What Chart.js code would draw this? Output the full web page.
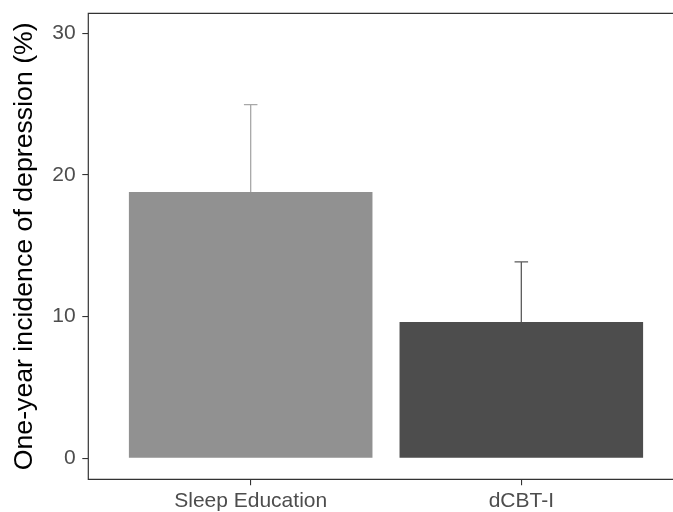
<!DOCTYPE html>
<html>
<head>
<meta charset="utf-8">
<script src="https://cdn.jsdelivr.net/npm/chart.js@4/dist/chart.umd.min.js"></script>
<style>
  body { margin: 0; background: #fff; overflow: hidden; }
  #wrap { width: 673px; height: 512px; overflow: hidden; }
</style>
</head>
<body>
<div id="wrap"><canvas id="chart" width="686" height="512"></canvas></div>
<script>
const groups = ["Sleep Education", "dCBT-I"];
const incidence = [18.8, 9.62];
const upperCI = [24.96, 13.86];
const yTicks = [0, 10, 20, 30];
const barColors = ["#919191", "#4d4d4d"];
const errColors = ["#a8a8a8", "#5a5a5a"];

const FONT = "'Liberation Sans', Arial, sans-serif";

// error bars (upper half only, like the original)
const errorBars = {
  id: "errorBars",
  afterDatasetsDraw(chart) {
    const { ctx, scales: { x, y } } = chart;
    ctx.save();
    ctx.lineWidth = 1.3;
    upperCI.forEach((hi, i) => {
      const cx = x.getPixelForValue(i + 1);
      const half = (x.getPixelForValue(i + 1.025) - x.getPixelForValue(i + 0.975)) / 2;
      const yTop = y.getPixelForValue(hi);
      const yBar = y.getPixelForValue(incidence[i]);
      ctx.strokeStyle = errColors[i];
      ctx.beginPath();
      ctx.moveTo(cx, yBar);
      ctx.lineTo(cx, yTop);
      ctx.moveTo(cx - half, yTop);
      ctx.lineTo(cx + half, yTop);
      ctx.stroke();
    });
    ctx.restore();
  },
};

// panel border (right side falls outside the crop anyway)
const panelBorder = {
  id: "panelBorder",
  afterDraw(chart) {
    const { ctx, chartArea: a } = chart;
    ctx.save();
    ctx.strokeStyle = "#333333";
    ctx.lineWidth = 1.2;
    ctx.beginPath();
    ctx.moveTo(a.right, a.top);
    ctx.lineTo(a.left, a.top);
    ctx.lineTo(a.left, a.bottom);
    ctx.lineTo(a.right, a.bottom);
    ctx.stroke();
    ctx.restore();
  },
};

new Chart(document.getElementById("chart"), {
  type: "bar",
  data: {
    datasets: [
      {
        data: incidence.map((v, i) => ({ x: i + 1, y: v })),
        backgroundColor: barColors,
        borderWidth: 0,
        categoryPercentage: 1,
        barPercentage: 0.9,
      },
    ],
  },
  options: {
    responsive: false,
    animation: false,
    layout: { padding: { top: 13.3, right: 2.3, left: 0, bottom: 0 } },
    plugins: { legend: { display: false }, tooltip: { enabled: false } },
    scales: {
      x: {
        type: "linear",
        min: 0.4,
        max: 2.6,
        offset: false,
        afterBuildTicks: (s) => { s.ticks = groups.map((g, i) => ({ value: i + 1 })); },
        afterFit: (s) => {
          s.height = 32.7;
          s.paddingLeft = 0;
          s.paddingRight = 0;
        },
        grid: { offset: false, drawOnChartArea: false, color: "#333333", tickLength: 6, lineWidth: 1.1 },
        border: { display: false },
        ticks: {
          callback: (v) => groups[v - 1],
          color: "#4d4d4d",
          font: { family: FONT, size: 21 },
          padding: 3,
          maxRotation: 0,
        },
      },
      y: {
        min: -1.48,
        max: 31.41,
        afterBuildTicks: (s) => { s.ticks = yTicks.map((v) => ({ value: v })); },
        afterFit: (s) => {
          s.width = 88.3;
          s.paddingTop = 0;
          s.paddingBottom = 0;
        },
        grid: { drawOnChartArea: false, color: "#333333", tickLength: 6, lineWidth: 1.1 },
        border: { display: false },
        ticks: {
          color: "#4d4d4d",
          font: { family: FONT, size: 21 },
          padding: 6.6,
        },
        title: {
          display: true,
          text: "One-year incidence of depression (%)",
          color: "#000000",
          font: { family: FONT, size: 26.7, lineHeight: 1 },
          padding: { top: 11, bottom: 0 },
        },
      },
    },
  },
  plugins: [errorBars, panelBorder],
});
</script>
</body>
</html>
